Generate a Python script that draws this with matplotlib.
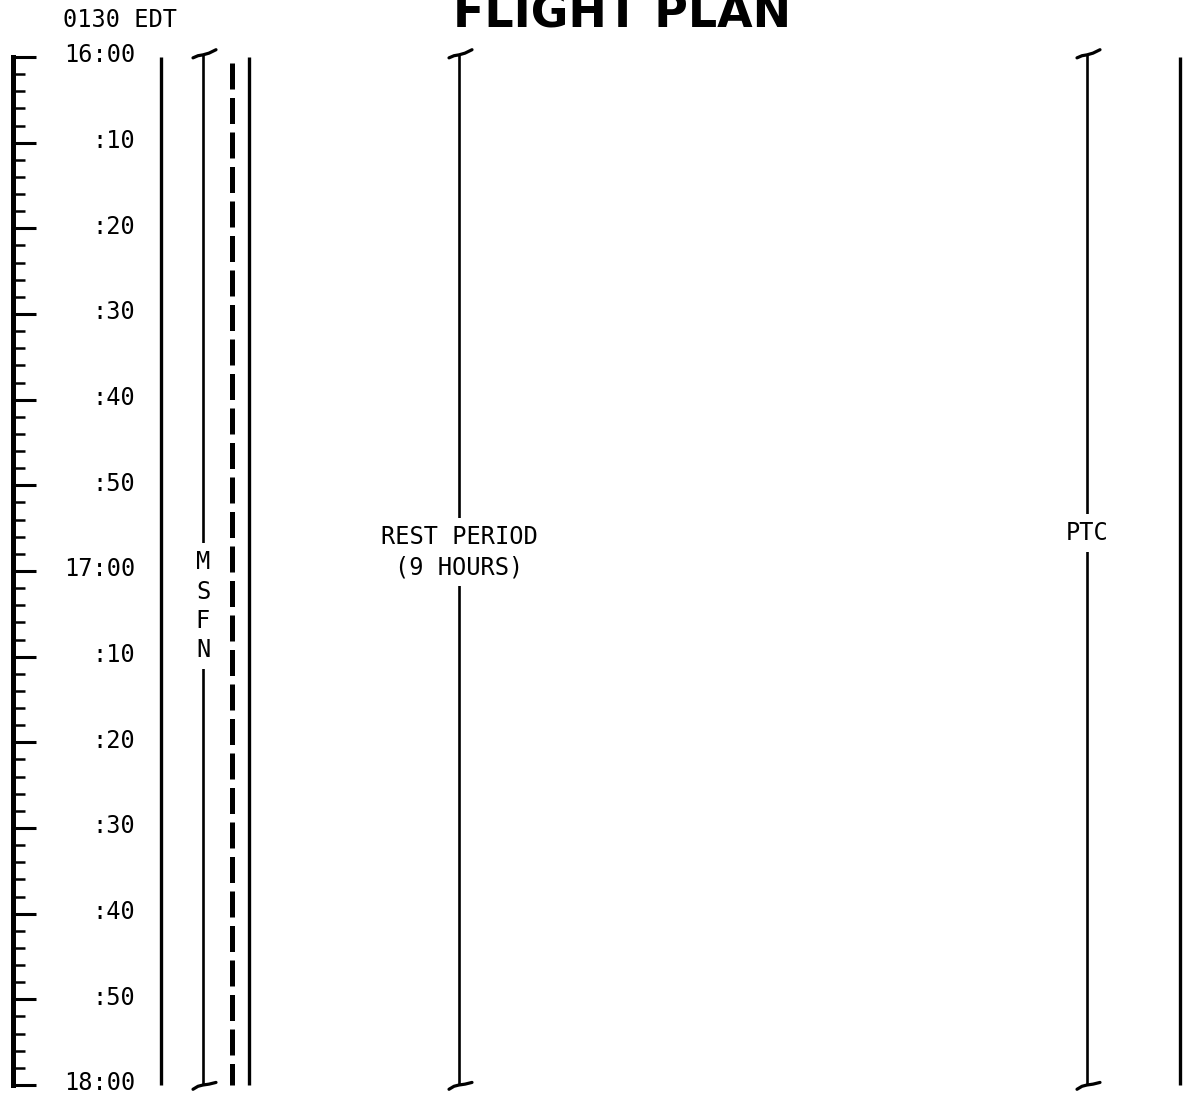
import matplotlib
matplotlib.use('Agg')
import matplotlib.pyplot as plt
from matplotlib.transforms import ScaledTranslation

# time scale, minutes after 16:00
tick_minutes = [0, 10, 20, 30, 40, 50, 60, 70, 80, 90, 100, 110, 120]
tick_labels = ['16:00', ':10', ':20', ':30', ':40', ':50', '17:00',
               ':10', ':20', ':30', ':40', ':50', '18:00']
minor_minutes = list(range(0, 121, 2))

# activity brackets (label, start min, end min)
activities = ['M\nS\nF\nN', 'REST PERIOD\n(9 HOURS)', 'PTC']
act_start = [0, 0, 0]
act_end = [120, 120, 120]

# column rules run the whole page
rule_start = 0
rule_end = 120

header = '0130 EDT'
title = 'FLIGHT PLAN'

# ---- layout (pixels of the 1188x1094 page) ----
W, H = 1188, 1094
top_px, bot_px = 57, 1085
ppm = (bot_px - top_px) / 120.0          # pixels per minute
mono = 'DejaVu Sans Mono'

act_x = [203, 459, 1087]
act_label_y = [64.1, 57.8, 55.6]
act_linespacing = [1.27, 1.31, 1.2]
solid_x = [161, 249, 1180]
dashed_x = [232]

fig = plt.figure(figsize=(W / 100, H / 100), dpi=100)
ax = fig.add_axes([0, 0, 1, 1])
ax.set_xlim(0, W)
ax.set_ylim((H - top_px) / ppm, -top_px / ppm)

# ruler on the left = the y axis itself
for s in ['top', 'right', 'bottom']:
    ax.spines[s].set_visible(False)
ax.spines['left'].set_position(('data', 13))
ax.spines['left'].set_bounds(0, 120)
ax.spines['left'].set_linewidth(3.6)
ax.set_yticks(tick_minutes, tick_labels)
ax.set_yticks(minor_minutes, minor=True)
ax.tick_params(axis='y', which='major', direction='in', length=16.5, width=2.2,
               pad=-87.8, labelsize=17)
ax.tick_params(axis='y', which='minor', direction='in', length=8.8, width=1.8)
ax.set_xticks([])
lift = ScaledTranslation(0, 3 / 72, fig.dpi_scale_trans)
for lbl in ax.get_yticklabels():
    lbl.set_fontfamily(mono)
    lbl.set_transform(lbl.get_transform() + lift)

# solid and dashed column rules
for x in solid_x:
    ax.plot([x, x], [rule_start, rule_end], color='black', lw=2.4,
            solid_capstyle='butt')
for x in dashed_x:
    ax.plot([x, x], [rule_start + 0.7, rule_end], color='black', lw=3.6,
            dashes=(5.2, 1.7), dash_capstyle='butt')

# activity brackets with tilted end caps
for lab, x, y0, y1, ly, ls in zip(activities, act_x, act_start, act_end,
                                  act_label_y, act_linespacing):
    ax.plot([x, x], [y0 - 0.2, y1], color='black', lw=1.9, solid_capstyle='butt')
    ax.plot([x - 10, x - 5, x, x + 6, x + 13],
            [y0 + 0.1, y0 - 0.15, y0 - 0.25, y0 - 0.45, y0 - 0.85],
            color='black', lw=2.3, solid_capstyle='round')
    ax.plot([x - 10, x - 5, x, x + 6, x + 13],
            [y1 + 0.5, y1 + 0.15, y1, y1 - 0.1, y1 - 0.3],
            color='black', lw=2.3, solid_capstyle='round')
    ax.text(x, ly, lab, ha='center', va='center', fontsize=17, family=mono,
            linespacing=ls, zorder=5,
            bbox=dict(boxstyle='square,pad=0.3', fc='white', ec='none'))

ax.text(63, -4.32, header, ha='left', va='center', fontsize=17, family=mono)
ax.text(622, (28 - top_px) / ppm, title, ha='center', va='baseline',
        fontsize=33, fontweight='bold', family='DejaVu Sans')

fig.savefig('out.png', dpi=100, facecolor='white')
